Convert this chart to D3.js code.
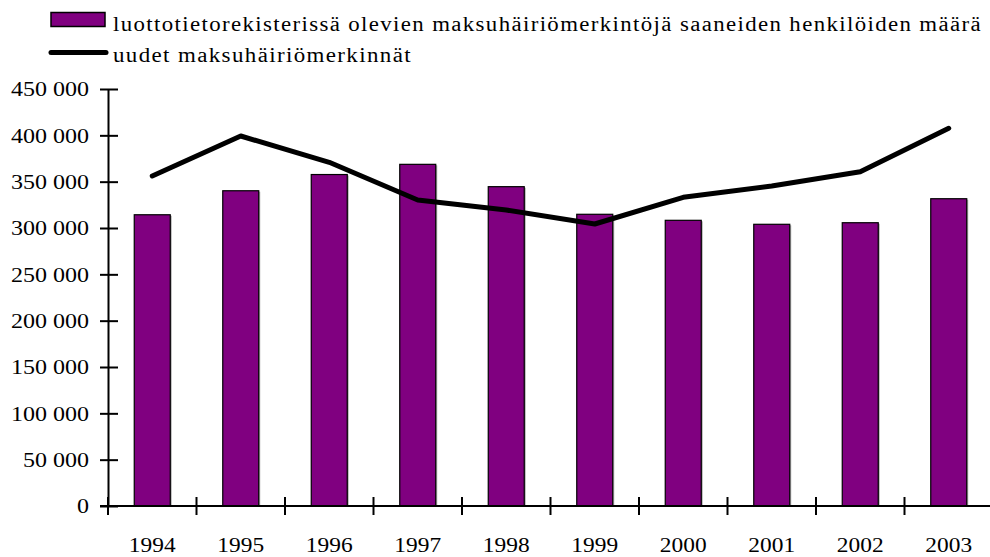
<!DOCTYPE html>
<html><head><meta charset="utf-8">
<script src="https://cdn.jsdelivr.net/npm/d3@7"></script>
<style>body{margin:0;background:#fff}svg{display:block}</style>
</head><body><svg id="c" width="990" height="557"></svg>
<script>
const years = ["1994","1995","1996","1997","1998","1999","2000","2001","2002","2003"];
const persons = [314300, 340200, 357700, 368700, 344600, 314800, 308300, 304000, 305700, 331600];
const newEntries = [356100, 399300, 370900, 330200, 319400, 304300, 333100, 345300, 360700, 407600];
const yTicks = [0, 50000, 100000, 150000, 200000, 250000, 300000, 350000, 400000, 450000];
const legendLabels = ["luottotietorekisterissä olevien maksuhäiriömerkintöjä saaneiden henkilöiden määrä", "uudet maksuhäiriömerkinnät"];

(function () {
const FONT = "'Liberation Serif', 'Times New Roman', serif";
const svg = d3.select("#c");
const mLeft = 108, mRight = 993, mTop = 89, mBottom = 506;
const x = d3.scaleBand().domain(years).range([mLeft, mRight]).paddingInner(0).paddingOuter(0);
const y = d3.scaleLinear().domain([0, 450000]).range([mBottom, mTop]);
const fmt = d3.formatLocale({decimal: ",", thousands: " ", grouping: [3], currency: ["", ""]}).format(",d");

function widen(sel, factor) {
  sel.each(function () {
    const w = this.getComputedTextLength();
    d3.select(this).attr("textLength", w * factor).attr("lengthAdjust", "spacingAndGlyphs");
  });
}

const barW = 36;
svg.append("g").selectAll("rect").data(persons).join("rect")
  .attr("x", (d, i) => x(years[i]) + x.bandwidth() / 2 - barW / 2 + 1.5)
  .attr("y", d => y(d) + 1)
  .attr("width", barW).attr("height", d => y(0) - y(d) - 1)
  .attr("fill", "#b0b0b0");
svg.append("g").selectAll("rect").data(persons).join("rect")
  .attr("x", (d, i) => x(years[i]) + x.bandwidth() / 2 - barW / 2)
  .attr("y", d => y(d))
  .attr("width", barW).attr("height", d => y(0) - y(d))
  .attr("fill", "#800080").attr("stroke", "#000").attr("stroke-width", 1.2);

const line = d3.line().x((d, i) => x(years[i]) + x.bandwidth() / 2).y(d => y(d));
svg.append("path").datum(newEntries).attr("d", line)
  .attr("fill", "none").attr("stroke", "#000").attr("stroke-width", 5)
  .attr("stroke-linejoin", "round").attr("stroke-linecap", "round");

const ya = svg.append("g").attr("transform", `translate(${mLeft},0)`)
  .call(d3.axisLeft(y).tickValues(yTicks).tickFormat(d => fmt(d)).tickSizeInner(8).tickSizeOuter(0).tickPadding(11));
ya.attr("font-family", FONT).attr("font-size", 20);
ya.select(".domain").attr("stroke", "#000").attr("stroke-width", 2);
ya.selectAll(".tick line").attr("stroke", "#000").attr("stroke-width", 2).attr("x1", -8).attr("x2", 10);
ya.selectAll(".tick text").attr("fill", "#000").attr("dy", "0.34em");
widen(ya.selectAll(".tick text"), 1.2);

const xa = svg.append("g").attr("transform", `translate(0,${mBottom})`)
  .attr("font-family", FONT).attr("font-size", 20);
xa.append("line").attr("x1", mLeft - 8).attr("x2", 990).attr("y1", 0).attr("y2", 0).attr("stroke", "#000").attr("stroke-width", 2);
const bounds = years.map(yv => x(yv));
xa.selectAll("line.t").data(bounds).join("line").attr("class", "t")
  .attr("x1", d => d).attr("x2", d => d).attr("y1", -9).attr("y2", 9)
  .attr("stroke", "#000").attr("stroke-width", 2);
const xt = xa.selectAll("text").data(years).join("text")
  .attr("x", d => x(d) + x.bandwidth() / 2).attr("y", 45.5)
  .attr("text-anchor", "middle").text(d => d);
widen(xt, 1.17);

const lg = svg.append("g").attr("font-family", FONT).attr("font-size", 20);
lg.append("rect").attr("x", 51).attr("y", 12.5).attr("width", 54).attr("height", 14)
  .attr("fill", "#800080").attr("stroke", "#000").attr("stroke-width", 1.5);
const t1 = lg.append("text").attr("x", 113).attr("y", 31).attr("letter-spacing", 1.2).text(legendLabels[0]);
lg.append("line").attr("x1", 51).attr("x2", 106).attr("y1", 52.5).attr("y2", 52.5)
  .attr("stroke", "#000").attr("stroke-width", 5).attr("stroke-linecap", "round");
const t2 = lg.append("text").attr("x", 113).attr("y", 62).attr("letter-spacing", 1.2).text(legendLabels[1]);
t1.attr("textLength", 869).attr("lengthAdjust", "spacingAndGlyphs");
t2.attr("textLength", 299).attr("lengthAdjust", "spacingAndGlyphs");
})();
</script></body></html>
